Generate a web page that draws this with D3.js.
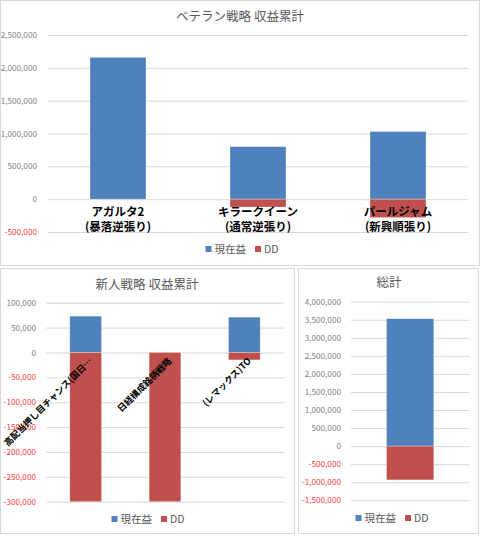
<!DOCTYPE html>
<html><head><meta charset="utf-8">
<script src="https://cdn.jsdelivr.net/npm/d3@7"></script>
<style>
html,body{margin:0;padding:0;background:#fff;}
text{font-family:"Noto Sans CJK JP","Noto Sans",sans-serif;}
</style></head>
<body><svg id="c" width="480" height="536"></svg>
<script>
// ---- data ----
const seriesNames = ["現在益", "DD"];
const seriesColors = ["#4F81BD", "#C0504D"];

const vetTitle = "ベテラン戦略 収益累計";
const vetCategories = [["アガルタ2", "(暴落逆張り)"], ["キラークイーン", "(通常逆張り)"], ["パールジャム", "(新興順張り)"]];
const vetProfit = [2160000, 800000, 1030000];
const vetDD = [0, -120000, -280000];
const vetTicks = [-500000, 0, 500000, 1000000, 1500000, 2000000, 2500000];

const newTitle = "新人戦略 収益累計";
const newCategories = ["高配当押し目チャンス(国日…", "日経構成銘柄戦略", "(レマックス)TO"];
const newProfit = [73000, 0, 71000];
const newDD = [-300000, -300000, -15000];
const newTicks = [-300000, -250000, -200000, -150000, -100000, -50000, 0, 50000, 100000];

const totTitle = "総計";
const totCategories = [""];
const totProfit = [3530000];
const totDD = [-935000];
const totTicks = [-1500000, -1000000, -500000, 0, 500000, 1000000, 1500000, 2000000, 2500000, 3000000, 3500000, 4000000];

// ---- drawing ----
const fmt = d3.formatLocale({decimal: ".", thousands: ",", grouping: [3], currency: ["", ""], minus: "-"}).format(",");
const svg = d3.select("#c");

function panel(cfg) {
  const g = svg.append("g");
  g.append("rect").attr("x", cfg.box[0] + 0.5).attr("y", cfg.box[1] + 0.5)
    .attr("width", cfg.box[2] - 1).attr("height", cfg.box[3] - 1)
    .attr("fill", "#fff").attr("stroke", "#D9D9D9").attr("stroke-width", 1);
  g.append("text").attr("x", cfg.titleX).attr("y", cfg.titleY)
    .attr("text-anchor", "middle").attr("font-size", 12.5).attr("fill", "#595959").text(cfg.title);

  const x = d3.scaleBand().domain(cfg.cats.map((d, i) => i)).range([cfg.x0, cfg.x1])
    .paddingInner(0.6).paddingOuter(0.3);
  const y = d3.scaleLinear().domain([cfg.ticks[0], cfg.ticks[cfg.ticks.length - 1]]).range([cfg.yBottom, cfg.yTop]);

  const ax = g.append("g").attr("transform", `translate(${cfg.x0},0)`)
    .call(d3.axisLeft(y).tickValues(cfg.ticks).tickSize(-(cfg.x1 - cfg.x0)).tickPadding(cfg.pad).tickFormat(fmt));
  ax.select(".domain").remove();
  ax.selectAll("line").attr("stroke", "#D9D9D9");
  ax.selectAll("text").attr("font-size", 8.2).attr("font-family", "'Noto Sans',sans-serif")
    .attr("fill", d => d < 0 ? "#FF3B3B" : "#7F7F7F");

  const series = [cfg.profit, cfg.dd];
  series.forEach((vals, s) => {
    g.append("g").selectAll("rect").data(vals).join("rect")
      .attr("x", (d, i) => x(i)).attr("width", x.bandwidth())
      .attr("y", d => y(Math.max(0, d))).attr("height", d => Math.abs(y(d) - y(0)))
      .attr("fill", seriesColors[s]).attr("stroke", "rgba(255,255,255,0.5)").attr("stroke-width", 0.6);
  });

  if (cfg.labelMode === "two") {
    cfg.cats.forEach((c, i) => {
      const cx = x(i) + x.bandwidth() / 2;
      c.forEach((line, k) => {
        g.append("text").attr("x", cx).attr("y", y(0) + 17 + k * 15).attr("text-anchor", "middle")
          .attr("font-size", 11.5).attr("font-weight", "bold").attr("fill", "#000").text(line);
      });
    });
  } else if (cfg.labelMode === "rot") {
    cfg.cats.forEach((c, i) => {
      const cx = x(i) + x.bandwidth() / 2;
      g.append("text").attr("transform", `translate(${cx + 5},${y(0) + 7}) rotate(-45)`)
        .attr("text-anchor", "end").attr("dy", "0.35em")
        .attr("font-size", 9).attr("font-weight", "bold").attr("fill", "#000").text(c);
    });
  }

  // legend
  const lg = g.append("g");
  let cur = 0;
  seriesNames.forEach((n, s) => {
    lg.append("rect").attr("x", cur).attr("y", -5).attr("width", 6).attr("height", 6).attr("fill", seriesColors[s]);
    const t = lg.append("text").attr("x", cur + 9).attr("y", 2).attr("font-size", 10.5).attr("fill", "#595959").text(n);
    cur += 9 + t.node().getComputedTextLength() + 9;
  });
  const w = cur - 9;
  lg.attr("transform", `translate(${cfg.legendX - w / 2},${cfg.legendY})`);
}

panel({box: [0, 0, 480, 266], title: vetTitle, titleX: 240, titleY: 21,
  cats: vetCategories, profit: vetProfit, dd: vetDD, ticks: vetTicks,
  x0: 48, x1: 468, yTop: 35, yBottom: 232, pad: 11, labelMode: "two", legendX: 242, legendY: 251});

panel({box: [0, 268, 295, 266], title: newTitle, titleX: 147, titleY: 289,
  cats: newCategories, profit: newProfit, dd: newDD, ticks: newTicks,
  x0: 46, x1: 284, yTop: 302.7, yBottom: 501.7, pad: 10, labelMode: "rot", legendX: 148, legendY: 521});

panel({box: [298, 268, 181, 266], title: totTitle, titleX: 389, titleY: 287,
  cats: totCategories, profit: totProfit, dd: totDD, ticks: totTicks,
  x0: 351, x1: 469.3, yTop: 301.7, yBottom: 500.3, pad: 10, labelMode: "none", legendX: 392, legendY: 520});
</script></body></html>
